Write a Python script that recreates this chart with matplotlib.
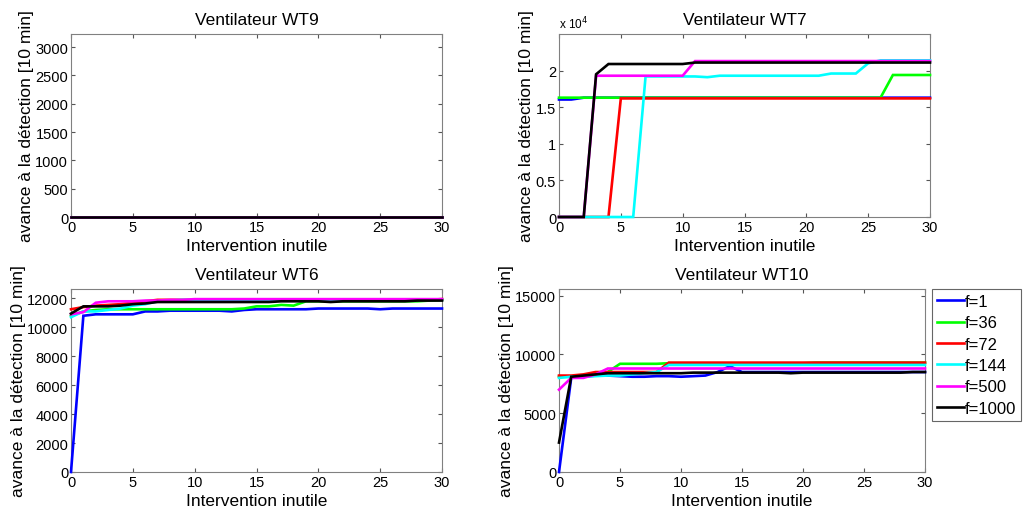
import matplotlib
matplotlib.use("Agg")
import matplotlib.pyplot as plt
import numpy as np

plt.rcParams['font.family'] = ['Liberation Sans', 'DejaVu Sans']

x = list(range(31))
labels = ["f=1", "f=36", "f=72", "f=144", "f=500", "f=1000"]
colors = ["#0000ff", "#00ff00", "#ff0000", "#00ffff", "#ff00ff", "#000000"]

# WT9: all zero
wt9 = [[0] * 31 for _ in range(6)]

# WT7 (raw values)
wt7_f1 = [16050] * 2 + [16300] * 29
wt7_f36 = [16300] * 27 + [19400] * 4
wt7_f72 = [0] * 5 + [16200] * 26
wt7_f144 = [0] * 7 + [19200] * 5 + [19100] + [19300] * 9 + [19600] * 3 + [21000] + [21400] * 5
wt7_f500 = [0] * 3 + [19300] * 8 + [21300] * 20
wt7_f1000 = [0] * 3 + [19500] + [20900] * 7 + [21100] * 20
wt7 = [wt7_f1, wt7_f36, wt7_f72, wt7_f144, wt7_f500, wt7_f1000]

# WT6
wt6_f1 = [0, 10800, 10900, 10900, 10900, 10900, 11100, 11100, 11150, 11150, 11150,
          11150, 11150, 11100, 11200, 11250, 11250, 11250, 11250, 11250, 11300,
          11300, 11300, 11300, 11300, 11250, 11300, 11300, 11300, 11300, 11300]
wt6_f36 = [10800, 11100, 11200, 11250, 11250, 11250, 11250, 11250, 11250, 11250, 11250,
           11250, 11250, 11250, 11300, 11450, 11450, 11550, 11500, 11800, 11800,
           11800, 11800, 11800, 11800, 11800, 11800, 11800, 11800, 11850, 11900]
wt6_f72 = [11250, 11400, 11500, 11550, 11600, 11700, 11800, 11900, 11900, 11900, 11900,
           11900, 11900, 11900, 11900, 11900, 11900, 11900, 11900, 11900, 11900,
           11900, 11900, 11900, 11900, 11900, 11900, 11900, 11900, 11900, 11950]
wt6_f144 = [10700, 11100, 11100, 11200, 11300, 11500, 11600, 11800, 11850, 11900, 11900,
            11900, 11900, 11900, 11900, 11900, 11900, 11900, 11900, 11900, 11900,
            11900, 11900, 11900, 11900, 11900, 11900, 11900, 11900, 11900, 11900]
wt6_f500 = [10900, 11050, 11700, 11800, 11800, 11800, 11850, 11850, 11900, 11900, 11950,
            11950, 11950, 11950, 11950, 11950, 11950, 11950, 11950, 11950, 11950,
            11950, 11950, 11950, 11950, 11950, 11950, 11950, 11950, 11950, 11950]
wt6_f1000 = [10950, 11450, 11450, 11450, 11500, 11600, 11650, 11750, 11750, 11750, 11750,
             11750, 11750, 11750, 11750, 11750, 11750, 11800, 11800, 11800, 11800,
             11750, 11800, 11800, 11800, 11800, 11800, 11800, 11850, 11850, 11850]
wt6 = [wt6_f1, wt6_f36, wt6_f72, wt6_f144, wt6_f500, wt6_f1000]

# WT10
wt10_f1 = [0, 8000, 8100, 8200, 8200, 8150, 8100, 8100, 8150, 8150, 8100,
           8150, 8200, 8500, 9000, 8500, 8500, 8500, 8500, 8500, 8500,
           8500, 8500, 8500, 8500, 8500, 8500, 8500, 8500, 8500, 8500]
wt10_f36 = [8100, 8100, 8200, 8300, 8500, 9200, 9200, 9200, 9200, 9250, 9250,
            9250, 9250, 9250, 9250, 9250, 9250, 9250, 9250, 9250, 9250,
            9300, 9300, 9300, 9300, 9300, 9300, 9300, 9300, 9300, 9300]
wt10_f72 = [8200, 8200, 8300, 8500, 8500, 8500, 8500, 8500, 8500, 9300, 9300,
            9300, 9300, 9300, 9300, 9300, 9300, 9300, 9300, 9300, 9300,
            9300, 9300, 9300, 9300, 9300, 9300, 9300, 9300, 9300, 9300]
wt10_f144 = [8000, 8100, 8100, 8150, 8200, 8200, 8300, 8400, 8500, 9100, 9100,
             9100, 9100, 9100, 9100, 9100, 9100, 9100, 9100, 9100, 9100,
             9100, 9100, 9100, 9100, 9100, 9100, 9100, 9100, 9100, 9100]
wt10_f500 = [7000, 8000, 8000, 8300, 8800, 8800, 8800, 8800, 8800, 8800, 8800,
             8800, 8800, 8800, 8800, 8800, 8800, 8800, 8800, 8800, 8800,
             8800, 8800, 8800, 8800, 8800, 8800, 8800, 8800, 8800, 8800]
wt10_f1000 = [2500, 8100, 8200, 8300, 8400, 8400, 8400, 8400, 8400, 8400, 8400,
              8450, 8450, 8450, 8450, 8450, 8450, 8450, 8450, 8400, 8450,
              8450, 8450, 8450, 8450, 8450, 8450, 8450, 8450, 8500, 8500]
wt10 = [wt10_f1, wt10_f36, wt10_f72, wt10_f144, wt10_f500, wt10_f1000]

titles = ["Ventilateur WT9", "Ventilateur WT7", "Ventilateur WT6", "Ventilateur WT10"]
datasets = [wt9, wt7, wt6, wt10]
ylims = [3230, 25000, 12650, 15560]
yticks = [list(range(0, 3001, 500)), list(range(0, 20001, 5000)),
          list(range(0, 12001, 2000)), list(range(0, 15001, 5000))]
xticks = list(range(0, 31, 5))

W, H = 1029, 510
fig = plt.figure(figsize=(W / 100, H / 100), dpi=100)
boxes = [(71, 35, 442, 218), (559, 35, 930, 218), (71, 290, 442, 473), (559, 290, 925, 473)]

axes = []
for i, (l, t, r, b) in enumerate(boxes):
    ax = fig.add_axes([l / W, 1 - b / H, (r - l) / W, (b - t) / H])
    for k, ys in enumerate(datasets[i]):
        ax.plot(x, ys, color=colors[k], lw=1.9, label=labels[k],
                solid_joinstyle='miter', clip_on=False, zorder=3 + k * 0.01)
    ax.set_xlim(0, 30)
    ax.set_ylim(0, ylims[i])
    ax.set_xticks(xticks)
    ax.set_yticks(yticks[i])
    if i == 1:
        ax.set_yticklabels(["0", "0.5", "1", "1.5", "2"])
        ax.text(0.0, 1.015, r"x 10$^4$", transform=ax.transAxes, fontsize=8.5,
                ha='left', va='bottom')
    ax.tick_params(direction='in', top=True, right=True, length=3, labelsize=10.5,
                   pad=2, color='#555555')
    for s in ax.spines.values():
        s.set_color('#808080')
        s.set_linewidth(0.8)
    ax.set_title(titles[i], fontsize=12.5, pad=7)
    ax.set_xlabel("Intervention inutile", fontsize=12.5, labelpad=3)
    ax.set_ylabel("avance à la détection [10 min]", fontsize=12.5, labelpad=1)
    axes.append(ax)

leg = axes[3].legend(loc='upper left', bbox_to_anchor=(932 / W, 1 - 290 / H),
                     bbox_transform=fig.transFigure, fontsize=12, frameon=True,
                     fancybox=False, borderaxespad=0, handlelength=1.6,
                     handletextpad=0.05, labelspacing=0.38, borderpad=0.3)
leg.get_frame().set_edgecolor('#404040')
leg.get_frame().set_linewidth(0.8)

fig.savefig("out.png", dpi=100)
